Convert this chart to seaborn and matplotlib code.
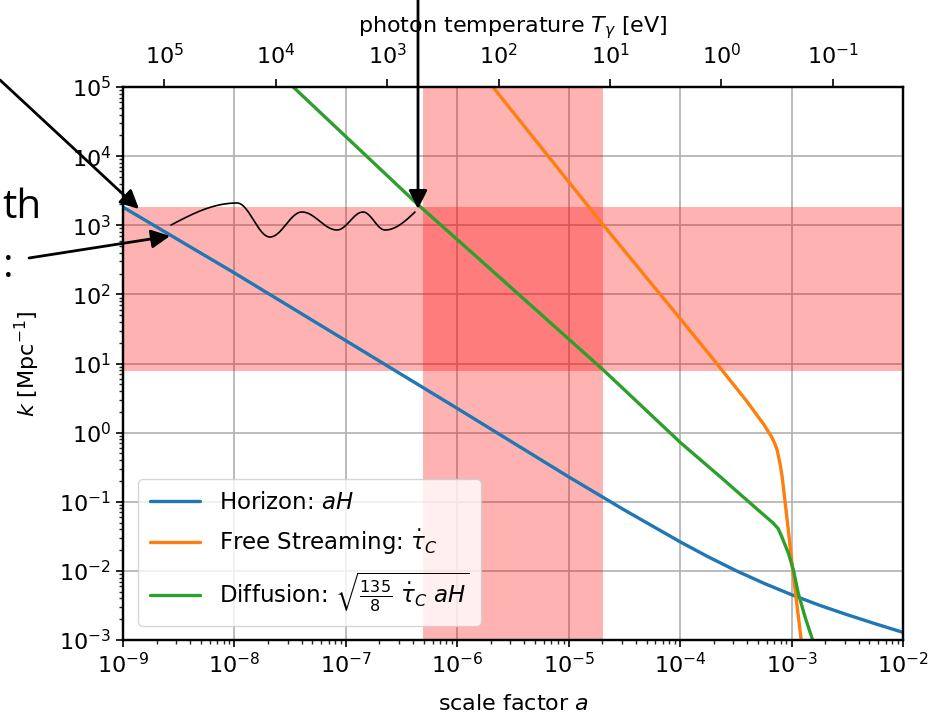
import numpy as np
import pandas as pd
import seaborn as sns
import matplotlib.pyplot as plt
from matplotlib.ticker import LogLocator, NullLocator, FixedLocator

# --- values ---
# horizon scale aH
a_horizon = [1e-9, 1e-8, 1e-7, 1e-6, 1e-5, 3.16e-5, 1e-4, 1.78e-4, 3.16e-4,
             5.62e-4, 1e-3, 1.78e-3, 3.16e-3, 5.62e-3, 1e-2]
k_horizon = [1830, 204, 21.4, 2.24, 0.229, 0.0759, 0.0263, 0.0160, 0.0101,
             0.00664, 0.00452, 0.00318, 0.00232, 0.00172, 0.00129]

# free streaming (Thomson rate)
a_free = [1.78e-6, 2.05e-5, 1e-4, 2.13e-4, 3.98e-4, 5.62e-4, 6.62e-4, 7.08e-4,
          7.43e-4, 7.94e-4, 8.24e-4, 8.77e-4, 9.42e-4, 1.03e-3, 1.22e-3, 1.32e-3]
k_free = [1.38e5, 1000, 44.7, 10.0, 2.82, 1.32, 0.869, 0.692,
          0.558, 0.331, 0.227, 0.0955, 0.0348, 0.00955, 0.001, 0.000355]

# diffusion scale
a_diff = [2.51e-8, 3.37e-8, 4.42e-7, 1.60e-6, 2.05e-5, 1e-4, 2.37e-4, 5.01e-4,
          6.31e-4, 6.89e-4, 7.59e-4, 8.18e-4, 9.38e-4, 1.04e-3, 1.15e-3,
          1.32e-3, 1.54e-3, 1.66e-3]
k_diff = [1.55e5, 1e5, 2000, 316, 8.02, 0.724, 0.219, 0.0759,
          0.055, 0.0485, 0.0407, 0.031, 0.0179, 0.0102, 0.00471,
          0.00216, 0.00102, 0.000708]

# shaded windows
a_window = [4.93e-7, 2.05e-5]
k_window = [7.8, 1830]

T0 = 2.35e-4  # eV, T_gamma = T0 / a

x_ticks = [1e-9, 1e-8, 1e-7, 1e-6, 1e-5, 1e-4, 1e-3, 1e-2]
y_ticks = [1e-3, 1e-2, 1e-1, 1e0, 1e1, 1e2, 1e3, 1e4, 1e5]
t_ticks = [1e5, 1e4, 1e3, 1e2, 1e1, 1e0, 1e-1]

labels = [r'Horizon: $aH$', r'Free Streaming: $\dot{\tau}_C$',
          r'Diffusion: $\sqrt{\frac{135}{8}\ \dot{\tau}_C\ aH}$']
colors = ['#1f77b4', '#ff7f0e', '#2ca02c']

df = pd.concat([
    pd.DataFrame({'a': a_horizon, 'k': k_horizon, 'curve': labels[0]}),
    pd.DataFrame({'a': a_free, 'k': k_free, 'curve': labels[1]}),
    pd.DataFrame({'a': a_diff, 'k': k_diff, 'curve': labels[2]}),
])

sns.set_style('ticks')
plt.rcParams['font.family'] = ['DejaVu Sans']
plt.rcParams['mathtext.fontset'] = 'dejavusans'
plt.rcParams['text.color'] = 'k'
plt.rcParams['axes.labelcolor'] = 'k'

W, H = 948, 719
fig = plt.figure(figsize=(W / 100, H / 100), dpi=100)
ax = fig.add_axes([123 / W, 1 - 640 / H, 780 / W, 553 / H])


def px(x, y):
    # pixel position in the picture -> figure fraction
    return (x / W, 1 - y / H)


ax.set_xscale('log')
ax.set_yscale('log')
ax.axvspan(a_window[0], a_window[1], color='red', alpha=0.3, lw=0)
ax.axhspan(k_window[0], k_window[1], color='red', alpha=0.3, lw=0)

for lab, col in zip(labels, colors):
    sub = df[df['curve'] == lab]
    sns.lineplot(data=sub, x='a', y='k', color=col, lw=2.4, label=lab,
                 sort=False, estimator=None, ax=ax)

ax.set_xlim(1e-9, 1e-2)
ax.set_ylim(1e-3, 1e5)
ax.xaxis.set_major_locator(FixedLocator(x_ticks))
ax.yaxis.set_major_locator(FixedLocator(y_ticks))
ax.xaxis.set_minor_locator(LogLocator(base=10, subs=np.arange(2, 10), numticks=20))
ax.yaxis.set_minor_locator(LogLocator(base=10, subs=np.arange(2, 10), numticks=20))
ax.grid(True, which='major', color='#b0b0b0', lw=1.2)
ax.tick_params(which='major', length=5, width=1.2, labelsize=16, colors='k')
ax.tick_params(which='minor', length=3, width=1)
ax.set_xlabel(r'scale factor $a$', fontsize=16, labelpad=12)
ax.set_ylabel(r'$k$ [Mpc$^{-1}$]', fontsize=16, labelpad=12)
for s in ax.spines.values():
    s.set_color('k')
    s.set_linewidth(1.6)

leg = ax.legend(loc='lower left', fontsize=16.5, framealpha=0.8,
                handlelength=2.2, borderpad=0.5, labelspacing=0.6,
                bbox_to_anchor=(0.005, 0.005))

# top axis: photon temperature
ax2 = ax.twiny()
ax2.set_xscale('log')
ax2.set_xlim(T0 / 1e-9, T0 / 1e-2)
ax2.xaxis.set_major_locator(FixedLocator(t_ticks))
ax2.xaxis.set_minor_locator(NullLocator())
ax2.tick_params(which='major', length=6, width=1.2, pad=7.5, labelsize=16, colors='k')
ax2.set_xlabel(r'photon temperature $T_\gamma$ [eV]', fontsize=16, labelpad=8)
for s in ax2.spines.values():
    s.set_color('k')
    s.set_linewidth(1.6)

# slide annotations around the plot
arrow = dict(arrowstyle='-|>', color='k', lw=2, mutation_scale=28,
             shrinkA=0, shrinkB=0)
ax.annotate('', xy=px(139, 209), xytext=px(0, 80), xycoords='figure fraction',
            textcoords='figure fraction', arrowprops=arrow, annotation_clip=False)
ax.annotate('', xy=px(170, 236), xytext=px(29, 258), xycoords='figure fraction',
            textcoords='figure fraction', arrowprops=arrow, annotation_clip=False)
ax.annotate('', xy=px(418, 209), xytext=px(418, 0), xycoords='figure fraction',
            textcoords='figure fraction', arrowprops=arrow, annotation_clip=False)

# hand drawn wave between the two scales
wave_x = [171, 237, 270, 302, 337, 363, 385, 415]
wave_y = [225, 203, 237, 212, 230, 212, 230, 212]
xs, ys = [], []
n = len(wave_x) - 1
for i in range(n):
    t = np.linspace(0, 1, 30)
    if i == 0:
        s = np.sin(t * np.pi / 2)
    elif i == n - 1:
        s = 1 - np.cos(t * np.pi / 2)
    else:
        s = (1 - np.cos(t * np.pi)) / 2
    xs.extend(wave_x[i] + (wave_x[i + 1] - wave_x[i]) * t)
    ys.extend(wave_y[i] + (wave_y[i + 1] - wave_y[i]) * s)
xs = np.array(xs)
ys = np.array(ys)
fig.add_artist(plt.Line2D(xs / W, 1 - ys / H, color='k', lw=1.2,
                          transform=fig.transFigure, zorder=10))

fig.text(*px(2, 218), 'th', ha='left', va='baseline', fontsize=29,
         color='k', family=['Open Sans', 'DejaVu Sans'])
fig.text(*px(3, 277), ':', ha='left', va='baseline', fontsize=29,
         color='k', family=['Open Sans', 'DejaVu Sans'])

fig.savefig('out.png', dpi=100)
